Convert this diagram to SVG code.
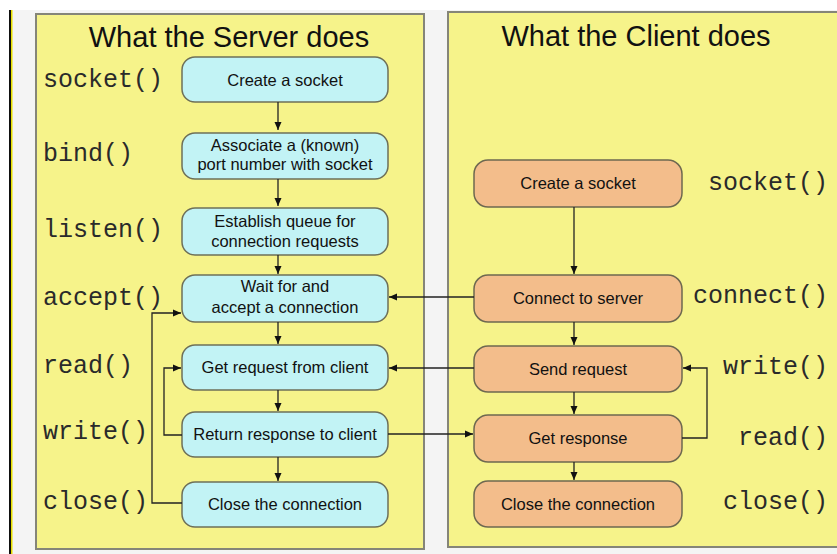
<svg xmlns="http://www.w3.org/2000/svg" width="837" height="554" viewBox="0 0 837 554">
<defs>
<marker id="ah" markerWidth="8" markerHeight="8" refX="8" refY="4" orient="auto" markerUnits="userSpaceOnUse">
<path d="M0,0.5 L8,4 L0,7.5 z" fill="#111"/>
</marker>
</defs>
<style>
.panel{fill:#f6f38a;stroke:#858578;stroke-width:2}
.sbox{fill:#c2f3f5;stroke:#6e7058;stroke-width:1.5}
.cbox{fill:#f3bd8b;stroke:#6e6850;stroke-width:1.5}
.title{font-family:"Liberation Sans",Arial,sans-serif;font-size:29px;fill:#111;text-anchor:middle}
.fn{font-family:"Liberation Mono","Courier New",monospace;font-size:25px;fill:#2a2a2a}
.fnr{font-family:"Liberation Mono","Courier New",monospace;font-size:25px;fill:#2a2a2a;text-anchor:end}
.bt{font-family:"Liberation Sans",Arial,sans-serif;font-size:16.5px;fill:#111;text-anchor:middle}
.con{fill:none;stroke:#222;stroke-width:1.3}
</style>
<rect x="0" y="0" width="837" height="554" fill="#ffffff"/>
<rect x="10" y="10" width="827" height="544" fill="#f4f4f4"/>
<rect x="9" y="10" width="2" height="544" fill="#111"/>
<rect x="11" y="10" width="1.5" height="544" fill="#e8e000"/>

<g id="server-panel">
<rect class="panel" x="36" y="14" width="388" height="535"/>
<text class="title" x="229" y="47">What the Server does</text>
<text class="fn" x="43" y="87">socket()</text>
<text class="fn" x="43" y="161">bind()</text>
<text class="fn" x="43" y="237">listen()</text>
<text class="fn" x="43" y="305">accept()</text>
<text class="fn" x="43" y="373">read()</text>
<text class="fn" x="43" y="439">write()</text>
<text class="fn" x="43" y="509">close()</text>
</g>

<g id="client-panel">
<rect class="panel" x="448" y="12" width="392" height="535"/>
<text class="title" x="636" y="46">What the Client does</text>
<text class="fnr" x="828" y="190">socket()</text>
<text class="fnr" x="828" y="303">connect()</text>
<text class="fnr" x="828" y="374">write()</text>
<text class="fnr" x="828" y="445">read()</text>
<text class="fnr" x="828" y="509">close()</text>
</g>

<g id="s-socket"><rect class="sbox" x="182" y="57" width="206" height="45" rx="13"/><text class="bt" x="285" y="86">Create a socket</text></g>
<g id="s-bind"><rect class="sbox" x="182" y="133" width="206" height="46" rx="13"/><text class="bt" x="285" y="151">Associate a (known)</text><text class="bt" x="285" y="170">port number with socket</text></g>
<g id="s-listen"><rect class="sbox" x="182" y="208" width="206" height="47" rx="13"/><text class="bt" x="285" y="227">Establish queue for</text><text class="bt" x="285" y="247">connection requests</text></g>
<g id="s-accept"><rect class="sbox" x="182" y="275" width="206" height="47" rx="13"/><text class="bt" x="285" y="292">Wait for and</text><text class="bt" x="285" y="313">accept a connection</text></g>
<g id="s-read"><rect class="sbox" x="182" y="345" width="206" height="45" rx="13"/><text class="bt" x="285" y="373">Get request from client</text></g>
<g id="s-write"><rect class="sbox" x="182" y="412" width="206" height="45" rx="13"/><text class="bt" x="285" y="440">Return response to client</text></g>
<g id="s-close"><rect class="sbox" x="182" y="482" width="206" height="45" rx="13"/><text class="bt" x="285" y="510">Close the connection</text></g>

<g id="c-socket"><rect class="cbox" x="474" y="160" width="208" height="47" rx="14"/><text class="bt" x="578" y="189">Create a socket</text></g>
<g id="c-connect"><rect class="cbox" x="474" y="275" width="208" height="47" rx="14"/><text class="bt" x="578" y="304">Connect to server</text></g>
<g id="c-write"><rect class="cbox" x="474" y="346" width="208" height="46" rx="14"/><text class="bt" x="578" y="375">Send request</text></g>
<g id="c-read"><rect class="cbox" x="474" y="415" width="208" height="47" rx="14"/><text class="bt" x="578" y="444">Get response</text></g>
<g id="c-close"><rect class="cbox" x="474" y="481" width="208" height="46" rx="14"/><text class="bt" x="578" y="510">Close the connection</text></g>

<g id="connectors">
<line class="con" x1="278" y1="102" x2="278" y2="130" marker-end="url(#ah)"/>
<line class="con" x1="278" y1="179" x2="278" y2="206" marker-end="url(#ah)"/>
<line class="con" x1="278" y1="255" x2="278" y2="274" marker-end="url(#ah)"/>
<line class="con" x1="278" y1="322" x2="278" y2="344" marker-end="url(#ah)"/>
<line class="con" x1="278" y1="390" x2="278" y2="411" marker-end="url(#ah)"/>
<line class="con" x1="278" y1="457" x2="278" y2="481" marker-end="url(#ah)"/>
<line class="con" x1="574" y1="207" x2="574" y2="274" marker-end="url(#ah)"/>
<line class="con" x1="574" y1="322" x2="574" y2="345" marker-end="url(#ah)"/>
<line class="con" x1="574" y1="392" x2="574" y2="414" marker-end="url(#ah)"/>
<line class="con" x1="574" y1="462" x2="574" y2="480" marker-end="url(#ah)"/>
<line class="con" x1="474" y1="297" x2="389" y2="297" marker-end="url(#ah)"/>
<line class="con" x1="474" y1="368" x2="389" y2="368" marker-end="url(#ah)"/>
<line class="con" x1="388" y1="434" x2="473" y2="434" marker-end="url(#ah)"/>
<polyline class="con" points="682,438 707,438 707,368 683,368" marker-end="url(#ah)"/>
<polyline class="con" points="182,435 164,435 164,368 181,368" marker-end="url(#ah)"/>
<polyline class="con" points="182,503 152,503 152,313 181,313" marker-end="url(#ah)"/>
</g>
</svg>
